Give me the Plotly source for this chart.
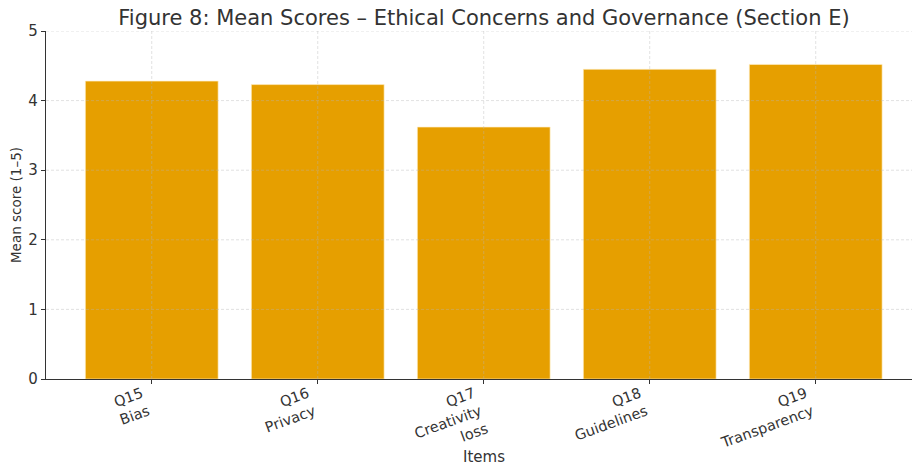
import plotly.graph_objects as go

# Section E items and their mean scores on a 1–5 scale
item_codes = ["Q15", "Q16", "Q17", "Q18", "Q19"]
item_names = ["Bias", "Privacy", "Creativity<br>loss", "Guidelines", "Transparency"]
mean_scores = [4.28, 4.23, 3.62, 4.45, 4.52]
y_ticks = [0, 1, 2, 3, 4, 5]

tick_text = [f"{c}<br>{n}" for c, n in zip(item_codes, item_names)]
positions = list(range(len(item_codes)))

BAR_COLOR = "#E69F00"
TEXT_COLOR = "#333333"
FONT = "DejaVu Sans"

W, H = 912, 467
M_L, M_R, M_T, M_B = 46, 0, 31, 88
X_RANGE = [-0.637, 4.58]

fig = go.Figure(
    go.Bar(
        x=positions,
        y=mean_scores,
        width=0.8,
        marker=dict(color=BAR_COLOR, line=dict(color="rgba(255,240,200,0.8)", width=0.8)),
        hoverinfo="skip",
    )
)

# dashed grid drawn over the bars, at the tick positions
grid_style = dict(color="rgba(180,180,180,0.5)", width=0.8, dash="3px,2px")
shapes = []
for yv in y_ticks[1:]:
    shapes.append(dict(type="line", xref="paper", yref="y", x0=0, x1=1, y0=yv, y1=yv,
                       line=grid_style, layer="above"))
for xv in positions:
    shapes.append(dict(type="line", xref="x", yref="y", x0=xv, x1=xv, y0=0, y1=y_ticks[-1],
                       line=grid_style, layer="above"))

plot_h = H - M_T - M_B

fig.update_layout(
    width=W,
    height=H,
    margin=dict(l=M_L, r=M_R, t=M_T, b=M_B),
    paper_bgcolor="white",
    plot_bgcolor="white",
    showlegend=False,
    font=dict(family=FONT, color=TEXT_COLOR, size=13),
    title=dict(
        text="Figure 8: Mean Scores – Ethical Concerns and Governance (Section E)",
        x=484 / W,
        xanchor="center",
        y=1 - 18 / H,
        yanchor="middle",
        font=dict(family=FONT, size=21, color=TEXT_COLOR),
    ),
    shapes=shapes,
    annotations=[
        dict(
            text="Items",
            xref="paper", yref="paper",
            x=(484 - M_L) / (W - M_L - M_R),
            y=-(457 - (H - M_B)) / plot_h,
            xanchor="center", yanchor="middle",
            showarrow=False,
            font=dict(family=FONT, size=15, color=TEXT_COLOR),
        )
    ],
)

fig.update_xaxes(
    range=X_RANGE,
    automargin=False,
    tickmode="array",
    tickvals=positions,
    ticktext=tick_text,
    tickangle=-20,
    ticklabelshift=-10,
    ticklabelstandoff=-4,
    tickfont=dict(family=FONT, size=14.5, color=TEXT_COLOR),
    ticks="outside",
    ticklen=4,
    tickwidth=1,
    tickcolor=TEXT_COLOR,
    showline=True,
    linecolor=TEXT_COLOR,
    linewidth=1,
    showgrid=False,
    zeroline=False,
)

fig.update_yaxes(
    range=[0, 5],
    automargin=False,
    tickmode="array",
    tickvals=y_ticks,
    tickfont=dict(family=FONT, size=15, color=TEXT_COLOR),
    ticks="outside",
    ticklen=4,
    tickwidth=1,
    tickcolor=TEXT_COLOR,
    showline=True,
    linecolor=TEXT_COLOR,
    linewidth=1.2,
    showgrid=False,
    zeroline=False,
    title=dict(text="Mean score (1–5)", font=dict(family=FONT, size=13.5, color=TEXT_COLOR), standoff=3),
)

fig.write_html("out.html", config={"displayModeBar": False})
